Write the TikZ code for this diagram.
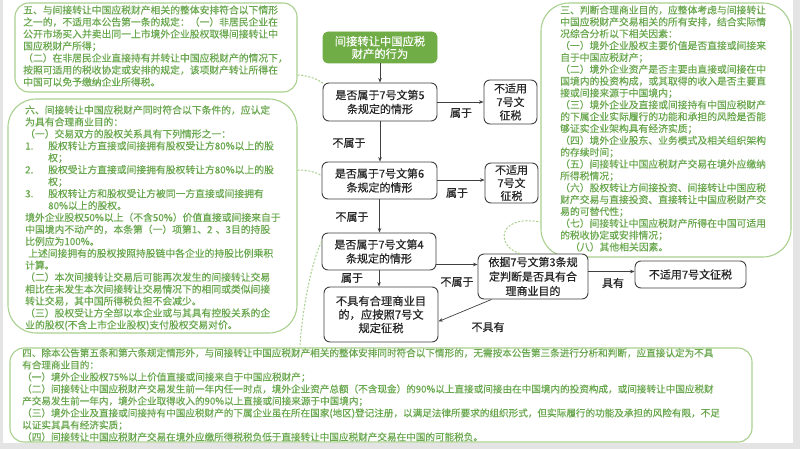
\documentclass[tikz,border=0pt]{standalone}
\usepackage{fontspec}
\setmainfont{Noto Sans CJK SC}
\newfontfamily\cjkmed{Noto Sans CJK SC}[FakeBold=0.4]
\usetikzlibrary{arrows.meta,calc}
\XeTeXlinebreaklocale "zh"
\XeTeXlinebreakskip=0pt plus 2pt
\definecolor{cgreen}{RGB}{106,168,79}
\definecolor{cborder}{RGB}{169,208,142}
\definecolor{boxgreen}{RGB}{112,173,71}
\definecolor{boxline}{RGB}{64,64,64}
\definecolor{framegray}{RGB}{228,228,228}
\newcommand\JL[1]{\leavevmode\hbox to \linewidth{#1}}
\newcommand\JN[2]{\leavevmode\hbox to \linewidth{\hbox to 23pt{#1\hfil}#2}}
\tikzset{
 callout/.style={draw=cborder, line width=1.1pt, fill=white, inner sep=0pt},
 ctext/.style={text=cgreen, align=left, inner sep=0pt, anchor=base west},
 fbox/.style={draw=boxline, line width=0.9pt, rounded corners=6pt, fill=white, align=center, inner sep=0pt, text=black!85, font=\cjkmed\fontsize{11}{14}\selectfont},
 lbl/.style={inner sep=0pt, text=black!85, font=\cjkmed\fontsize{11}{13}\selectfont},
 arr/.style={draw=boxline, line width=0.7pt, -{Stealth[length=4.5pt,width=3.6pt]}},
 dconn/.style={draw=cborder, line width=1pt, dash pattern=on 2pt off 1.6pt},
}
\begin{document}
\begin{tikzpicture}[x=1pt,y=-1pt]
\useasboundingbox (0,0) rectangle (800,449);
\fill[framegray] (0,0) rectangle (800,449);
\fill[white] (3,0) rectangle (793,443);

% callout frames
\node[callout, rounded corners=14pt, minimum width=282pt, minimum height=89pt] (c5) at (156,47.5) {};
\node[callout, rounded corners=28pt, minimum width=289pt, minimum height=234pt] (c6) at (152.5,216) {};
\node[callout, rounded corners=28pt, minimum width=250pt, minimum height=254pt] (c3) at (666,130) {};
\node[callout, rounded corners=14pt, minimum width=742pt, minimum height=94pt] (c4) at (381,395) {};

% callout texts
\node[ctext, text width=264pt, font=\cjkmed\fontsize{9.8}{12}\selectfont] (t5) at (23,13.7) {%
\JL{五、与间接转让中国应税财产相关的整体安排符合以下情形}\\
\JL{之一的，不适用本公告第一条的规定：（一）非居民企业在}\\
\JL{公开市场买入并卖出同一上市境外企业股权取得间接转让中}\\
国应税财产所得；\\
\JL{（二）在非居民企业直接持有并转让中国应税财产的情况下，}\\
\JL{按照可适用的税收协定或安排的规定，该项财产转让所得在}\\
中国可以免予缴纳企业所得税。};

\node[ctext, text width=253pt, font=\cjkmed\fontsize{9.8}{11.94}\selectfont] (t6) at (25,113.7) {%
\JL{六、间接转让中国应税财产同时符合以下条件的，应认定}\\
为具有合理商业目的：\\
（一）交易双方的股权关系具有下列情形之一：\\
\JN{1.}{股权转让方直接或间接拥有股权受让方80\%以上的股}\\
\hspace*{23pt}权；\\
\JN{2.}{股权受让方直接或间接拥有股权转让方80\%以上的股}\\
\hspace*{23pt}权；\\
\JN{3.}{股权转让方和股权受让方被同一方直接或间接拥有}\\
\hspace*{23pt}80\%以上的股权。\\
\JL{境外企业股权50\%以上（不含50\%）价值直接或间接来自于}\\
\JL{中国境内不动产的，本条第（一）项第1、2 、3目的持股}\\
比例应为100\%。\\
\JL{\hspace*{3pt}上述间接拥有的股权按照持股链中各企业的持股比例乘积}\\
计算。\\
\JL{（二）本次间接转让交易后可能再次发生的间接转让交易}\\
\JL{相比在未发生本次间接转让交易情况下的相同或类似间接}\\
转让交易，其中国所得税负担不会减少。\\
\JL{（三）股权受让方全部以本企业或与其具有控股关系的企}\\
业的股权(不含上市企业股权)支付股权交易对价。};

\node[ctext, text width=215pt, font=\cjkmed\fontsize{9.8}{11.85}\selectfont] (t3) at (560,13.7) {%
\JL{三、判断合理商业目的，应整体考虑与间接转让}\\
\JL{中国应税财产交易相关的所有安排，结合实际情}\\
况综合分析以下相关因素：\\
\JL{（一）境外企业股权主要价值是否直接或间接来}\\
自于中国应税财产；\\
\JL{（二）境外企业资产是否主要由直接或间接在中}\\
\JL{国境内的投资构成，或其取得的收入是否主要直}\\
接或间接来源于中国境内；\\
\JL{（三）境外企业及直接或间接持有中国应税财产}\\
\JL{的下属企业实际履行的功能和承担的风险是否能}\\
够证实企业架构具有经济实质；\\
\JL{（四）境外企业股东、业务模式及相关组织架构}\\
的存续时间；\\
\JL{（五）间接转让中国应税财产交易在境外应缴纳}\\
所得税情况；\\
\JL{（六）股权转让方间接投资、间接转让中国应税}\\
\JL{财产交易与直接投资、直接转让中国应税财产交}\\
易的可替代性；\\
\JL{（七）间接转让中国应税财产所得在中国可适用}\\
的税收协定或安排情况；\\
\hspace*{10pt}（八）其他相关因素。};

\node[ctext, text width=716pt, font=\cjkmed\fontsize{9.6}{12}\selectfont] (t4) at (22,356.6) {%
\JL{四、除本公告第五条和第六条规定情形外，与间接转让中国应税财产相关的整体安排同时符合以下情形的，无需按本公告第三条进行分析和判断，应直接认定为不具}\\
有合理商业目的：\\
（一）境外企业股权75\%以上价值直接或间接来自于中国应税财产；\\
\JL{（二）间接转让中国应税财产交易发生前一年内任一时点，境外企业资产总额（不含现金）的90\%以上直接或间接由在中国境内的投资构成，或间接转让中国应税财}\\
产交易发生前一年内，境外企业取得收入的90\%以上直接或间接来源于中国境内；\\
\JL{（三）境外企业及直接或间接持有中国应税财产的下属企业虽在所在国家(地区)登记注册，以满足法律所要求的组织形式，但实际履行的功能及承担的风险有限，不足}\\
以证实其具有经济实质；\\
（四）间接转让中国应税财产交易在境外应缴所得税税负低于直接转让中国应税财产交易在中国的可能税负。};

% flow boxes
\node[fbox, fill=boxgreen, draw=boxgreen, text=white, rounded corners=5pt, minimum width=114pt, minimum height=31pt, font=\cjkmed\fontsize{11.3}{12.5}\selectfont] (A) at (380,47.5) {间接转让中国应税\\财产的行为};
\node[fbox, minimum width=114pt, minimum height=38pt] (B) at (380,102) {是否属于7号文第5\\条规定的情形};
\node[fbox, minimum width=53pt, minimum height=44pt, font=\cjkmed\fontsize{11}{13.5}\selectfont] (C) at (510.5,102) {不适用\\7号文\\征税};
\node[fbox, minimum width=115pt, minimum height=37pt] (D) at (379.5,180.5) {是否属于7号文第6\\条规定的情形};
\node[fbox, minimum width=53pt, minimum height=40pt, font=\cjkmed\fontsize{11}{13}\selectfont] (E) at (511.5,183) {不适用\\7号文\\征税};
\node[fbox, minimum width=114pt, minimum height=37pt] (F) at (379,251.5) {是否属于7号文第4\\条规定的情形};
\node[fbox, minimum width=114pt, minimum height=55pt, font=\cjkmed\fontsize{11.3}{13.5}\selectfont] (G) at (381,314.5) {不具有合理商业目\\的，应按照7号文\\规定征税};
\node[fbox, minimum width=110pt, minimum height=45pt, font=\cjkmed\fontsize{11}{14.5}\selectfont] (H) at (533,276.5) {依据7号文第3条规\\定判断是否具有合\\理商业目的};
\node[fbox, minimum width=111pt, minimum height=27pt] (I) at (690.5,274.5) {不适用7号文征税};

% arrows
\draw[arr] (A.south) -- (B.north);
\draw[arr] (B.east) -- (C.west);
\draw[arr] (B.south) -- (B.south |- D.north);
\draw[arr] ([yshift=0.5pt]D.east) -- ([yshift=0.5pt]D.east -| E.west);
\draw[arr] (D.south) -- (D.south |- F.north);
\draw[arr] (F.south) -- (F.south |- G.north);
\draw[arr] ([yshift=-13pt]F.east) -- ([yshift=-13pt]F.east -| H.west);
\draw[arr] ([xshift=14pt]H.south west) -- ([yshift=-7pt]G.east);
\draw[arr] ([yshift=5pt]H.east) -- ([yshift=5pt]H.east -| I.west);

% labels
\node[lbl] (l1) at (461,113) {属于};
\node[lbl] (l2) at (349,143) {不属于};
\node[lbl] (l3) at (457,193) {属于};
\node[lbl] (l4) at (352,217) {不属于};
\node[lbl] (l5) at (352,278) {属于};
\node[lbl] (l6) at (457,282) {不属于};
\node[lbl] (l7) at (488,327) {不具有};
\node[lbl] (l8) at (613,283) {具有};

% dashed connectors
\draw[dconn] ([yshift=-27.5pt]c5.east) .. controls (310,76) and (317,79) .. ([xshift=1pt,yshift=-1pt]B.north west);
\draw[dconn] ([yshift=46pt]c6.east) .. controls (308,170) and (315,172) .. ([yshift=5pt]D.west);
\draw[dconn] ([yshift=10pt]F.west) .. controls (310,265) and (301,320) .. ([xshift=-81pt]c4.north);
\draw[dconn] ([xshift=-13pt]H.north) .. controls (495,246) and (498,214) .. ([yshift=-92pt]c3.west);
\end{tikzpicture}
\end{document}
